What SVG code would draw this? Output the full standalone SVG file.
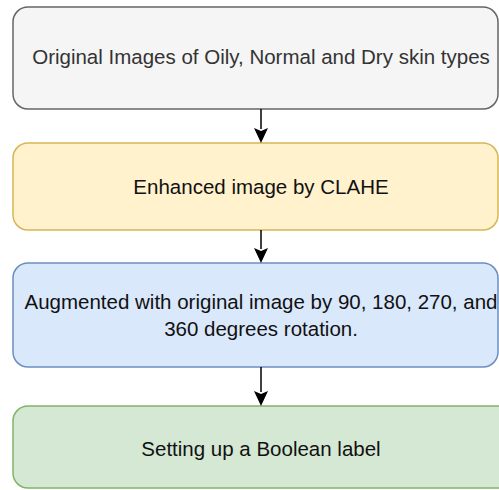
<svg xmlns="http://www.w3.org/2000/svg" width="499" height="490" viewBox="0 0 499 490">
<defs>
<style>
.lbl{font-family:"Liberation Sans",Arial,sans-serif;font-size:20.5px;text-anchor:middle;fill:#111}
.box{stroke-width:1.5}
.conn{stroke:#000;stroke-width:1.5;fill:none}
.head{fill:#000}
</style>
</defs>
<rect width="499" height="490" fill="#fff"/>
<g id="node1">
<rect class="box" x="13" y="7" width="485" height="102" rx="15" fill="#f5f5f5" stroke="#666666"/>
<text class="lbl" x="261" y="64" style="fill:#333">Original Images of Oily, Normal and Dry skin types</text>
</g>
<g id="node2">
<rect class="box" x="13" y="143" width="485" height="87" rx="15" fill="#fff2cc" stroke="#d6b656"/>
<text class="lbl" x="261" y="194">Enhanced image by CLAHE</text>
</g>
<g id="node3">
<rect class="box" x="13" y="263" width="485" height="104" rx="15" fill="#dae8fc" stroke="#6c8ebf"/>
<text class="lbl" x="261" y="309">Augmented with original image by 90, 180, 270, and</text>
<text class="lbl" x="261" y="336">360 degrees rotation.</text>
</g>
<g id="node4">
<rect class="box" x="13" y="406" width="500" height="82" rx="15" fill="#d5e8d4" stroke="#82b366"/>
<text class="lbl" x="261" y="456">Setting up a Boolean label</text>
</g>
<g id="connectors">
<path class="conn" d="M261,109 V129"/>
<path class="head" d="M254,128 L261,143 L268,128 L261,131 Z"/>
<path class="conn" d="M261,230 V249"/>
<path class="head" d="M254,248 L261,263 L268,248 L261,251 Z"/>
<path class="conn" d="M261,367 V392"/>
<path class="head" d="M254,391 L261,406 L268,391 L261,394 Z"/>
</g>
</svg>
